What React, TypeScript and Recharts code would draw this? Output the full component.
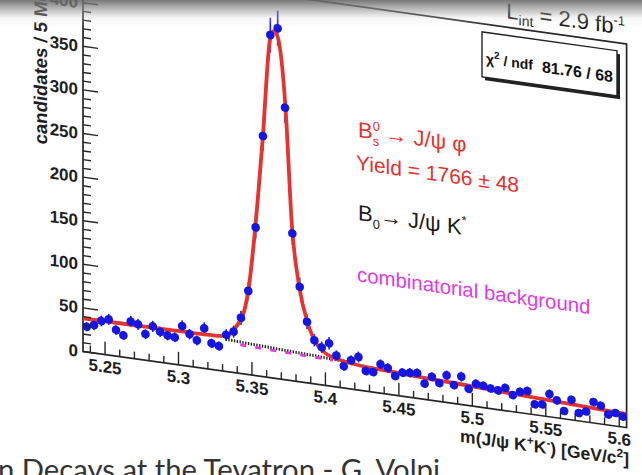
import React from 'react';
import { ComposedChart, Scatter, Line, XAxis, YAxis, ErrorBar, ReferenceArea } from 'recharts';

// bin centres of m(J/psi K+K-) [GeV/c^2], 5 MeV bins
const binMass = [
  5.2375, 5.2425, 5.2475, 5.2525, 5.2575, 5.2625, 5.2675, 5.2725, 5.2775, 5.2825,
  5.2875, 5.2925, 5.2975, 5.3025, 5.3075, 5.3125, 5.3175, 5.3225, 5.3275, 5.3325,
  5.3375, 5.3425, 5.3475, 5.3525, 5.3575, 5.3625, 5.3675, 5.3725, 5.3775, 5.3825,
  5.3875, 5.3925, 5.3975, 5.4025, 5.4075, 5.4125, 5.4175, 5.4225, 5.4275, 5.4325,
  5.4375, 5.4425, 5.4475, 5.4525, 5.4575, 5.4625, 5.4675, 5.4725, 5.4775, 5.4825,
  5.4875, 5.4925, 5.4975, 5.5025, 5.5075, 5.5125, 5.5175, 5.5225, 5.5275, 5.5325,
  5.5375, 5.5425, 5.5475, 5.5525, 5.5575, 5.5625, 5.5675, 5.5725, 5.5775, 5.5825,
  5.5875, 5.5925, 5.5975, 5.6025,
];
const candidates = [
  29, 32, 38, 41, 30, 25, 42, 40, 30, 40,
  35, 32, 31, 45, 37, 31, 46, 30, 28, 42,
  47, 64, 96, 170, 276, 393, 402, 312, 169, 109,
  70, 50, 43, 49, 36, 25, 33, 38, 23, 23,
  33, 30, 22, 27, 28, 29, 18, 27, 21, 31,
  21, 32, 19, 26, 25, 23, 22, 26, 19, 24,
  26, 12, 13, 26, 20, 9, 23, 9, 12, 24,
  21, 12, 15, 12,
];
const candidateErrors = [
  5.4, 5.7, 6.2, 6.4, 5.5, 5.0, 6.5, 6.3, 5.5, 6.3,
  5.9, 5.7, 5.6, 6.7, 6.1, 5.6, 6.8, 5.5, 5.3, 6.5,
  6.9, 8.0, 9.8, 13.0, 16.6, 19.8, 20.0, 17.7, 13.0, 10.4,
  8.4, 7.1, 6.6, 7.0, 6.0, 5.0, 5.7, 6.2, 4.8, 4.8,
  5.7, 5.5, 4.7, 5.2, 5.3, 5.4, 4.2, 5.2, 4.6, 5.6,
  4.6, 5.7, 4.4, 5.1, 5.0, 4.8, 4.7, 5.1, 4.4, 4.9,
  5.1, 3.5, 3.6, 5.1, 4.5, 3.0, 4.8, 3.0, 3.5, 4.9,
  4.6, 3.5, 3.9, 3.5,
];

// total fit curve
const fitMass = [
  5.235, 5.26, 5.29, 5.315, 5.325, 5.33, 5.335, 5.34, 5.345, 5.3476,
  5.3521, 5.3574, 5.3623, 5.3648, 5.3675, 5.373, 5.3771, 5.3823, 5.3877, 5.3941,
  5.40, 5.41, 5.42, 5.45, 5.50, 5.55, 5.605,
];
const fitValues = [
  38, 38.3, 38.6, 39, 39.5, 40.5, 44, 55, 74, 97,
  167, 275, 388, 398, 392, 308, 180, 108, 70, 46,
  37, 31.5, 29, 26, 22.5, 19, 15.5,
];
// total background (dotted) and combinatorial background (magenta dashed)
const totalBkgMass = [5.332, 5.35, 5.37, 5.39, 5.41, 5.42];
const totalBkgValues = [37, 35.5, 34, 32.5, 31, 30.5];
const combMass = [5.342, 5.36, 5.38, 5.40, 5.405];
const combValues = [33, 32, 31, 30.2, 30];

const xMajorTicks = [5.25, 5.3, 5.35, 5.4, 5.45, 5.5, 5.55, 5.6];
const xMajorLabels = ['5.25', '5.3', '5.35', '5.4', '5.45', '5.5', '5.55', '5.6'];
const xMinorTicks = [
  5.24, 5.26, 5.27, 5.28, 5.29, 5.31, 5.32, 5.33, 5.34, 5.36, 5.37, 5.38, 5.39,
  5.41, 5.42, 5.43, 5.44, 5.46, 5.47, 5.48, 5.49, 5.51, 5.52, 5.53, 5.54,
  5.56, 5.57, 5.58, 5.59,
];
const yMajorTicks = [0, 50, 100, 150, 200, 250, 300, 350, 400];
const yMajorLabels = ['0', '50', '100', '150', '200', '250', '300', '350', '400'];
const yMinorTicks = [
  10, 20, 30, 40, 60, 70, 80, 90, 110, 120, 130, 140, 160, 170, 180, 190,
  210, 220, 230, 240, 260, 270, 280, 290, 310, 320, 330, 340, 360, 370, 380, 390,
  410, 420, 430,
];

const points = binMass.map((m, i) => ({ m, v: candidates[i], e: candidateErrors[i] }));
const fitData = fitMass.map((m, i) => ({ m, v: fitValues[i] }));
const totalBkgData = totalBkgMass.map((m, i) => ({ m, v: totalBkgValues[i] }));
const combData = combMass.map((m, i) => ({ m, v: combValues[i] }));
const xTicks = [...xMajorTicks, ...xMinorTicks].sort((a, b) => a - b);
const yTicks = [...yMajorTicks, ...yMinorTicks].sort((a, b) => a - b);

const FONT = '"Liberation Sans", Arial, Helvetica, sans-serif';
const AXIS = '#262626';
const RED = '#e5332f';
const BLUE = '#1616e0';
const MAGENTA = '#e03ae0';

const XTick = (props: any) => {
  const { x, y, payload } = props;
  const idx = xMajorTicks.findIndex((t) => Math.abs(t - payload.value) < 1e-6);
  const major = idx >= 0;
  return (
    <g>
      <line x1={x} x2={x} y1={y} y2={y - (major ? 13 : 7)} stroke={AXIS} strokeWidth={1.4} />
      {major && (
        <text x={x} y={y + 18} textAnchor="middle" fontFamily={FONT} fontSize={17} fontWeight="bold" fill="#1e1e1e">
          {xMajorLabels[idx]}
        </text>
      )}
    </g>
  );
};

const YTick = (props: any) => {
  const { x, y, payload } = props;
  const idx = yMajorTicks.findIndex((t) => Math.abs(t - payload.value) < 1e-6);
  const major = idx >= 0;
  return (
    <g>
      <line x1={x} x2={x + (major ? 15 : 8)} y1={y} y2={y} stroke={AXIS} strokeWidth={1.4} />
      {major && (
        <text x={x - 5} y={y + 6} textAnchor="end" fontFamily={FONT} fontSize={17} fontWeight="bold" fill="#1e1e1e">
          {yMajorLabels[idx]}
        </text>
      )}
    </g>
  );
};

const Dot = (props: any) => <circle cx={props.cx} cy={props.cy} r={4.3} fill={BLUE} />;

export default function App() {
  return (
    <div style={{ position: 'absolute', left: 0, top: 0, width: 642, height: 475, overflow: 'hidden', background: '#ffffff' }}>
      <div
        style={{
          position: 'absolute',
          left: 0,
          top: -90,
          width: 642,
          height: 560,
          transform: 'skewY(7.97deg)',
          transformOrigin: '83px 0px',
        }}
      >
        <ComposedChart width={642} height={560} margin={{ top: 57.8, right: 15.4, bottom: 58.5, left: 23 }}>
          <XAxis
            type="number"
            dataKey="m"
            domain={[5.235, 5.605]}
            ticks={xTicks}
            interval={0}
            allowDataOverflow
            axisLine={false}
            tickLine={false}
            tickSize={0}
            tickMargin={0}
            height={60}
            tick={<XTick />}
          />
          <YAxis
            type="number"
            dataKey="v"
            domain={[0, 440]}
            ticks={yTicks}
            interval={0}
            allowDataOverflow
            axisLine={false}
            tickLine={false}
            tickSize={0}
            tickMargin={0}
            width={60}
            tick={<YTick />}
          />
          <ReferenceArea x1={5.235} x2={5.605} y1={0} y2={440} fill="none" stroke={AXIS} strokeWidth={1.7} ifOverflow="visible" />
          <Scatter data={points} dataKey="v" shape={<Dot />} isAnimationActive={false}>
            <ErrorBar dataKey="e" direction="y" width={0} stroke={BLUE} strokeWidth={1.6} />
          </Scatter>
          <Line data={totalBkgData} dataKey="v" type="linear" stroke="#222" strokeWidth={3} strokeDasharray="1.4 1.4" dot={false} isAnimationActive={false} />
          <Line data={combData} dataKey="v" type="linear" stroke={MAGENTA} strokeWidth={2.8} strokeDasharray="6 9" dot={false} isAnimationActive={false} />
          <Line data={fitData} dataKey="v" type="monotone" stroke={RED} strokeWidth={3.8} dot={false} isAnimationActive={false} />
        </ComposedChart>
        <svg width={642} height={560} style={{ position: 'absolute', left: 0, top: 0, pointerEvents: 'none' }}>
          <text x={47} y={240} transform="rotate(-90 47 240)" textAnchor="start" fontFamily={FONT} fontSize={18.5} fontWeight="bold" fill="#1e1e1e">
            candidates / 5 MeV/c<tspan dy={-7} fontSize={12}>2</tspan>
          </text>
          <text x={629} y={479} textAnchor="end" fontFamily={FONT} fontSize={17.5} fontWeight="bold" fill="#1e1e1e">
            m(J/ψ K<tspan dy={-7} fontSize={12}>+</tspan><tspan dy={7}>K</tspan><tspan dy={-7} fontSize={12}>-</tspan><tspan dy={7}>)  [GeV/c</tspan><tspan dy={-7} fontSize={12}>2</tspan><tspan dy={7}>]</tspan>
          </text>
          <text x={625} y={49} textAnchor="end" fontFamily={FONT} fontSize={22} fill="#111">
            L<tspan dy={5} fontSize={14}>int</tspan><tspan dy={-5}> = 2.9 fb</tspan><tspan dy={-9} fontSize={13}>-1</tspan>
          </text>
          <rect x={485} y={69} width={135} height={45} fill="#222" />
          <rect x={482} y={66} width={135} height={45} fill="#fff" stroke="#222" strokeWidth={1.4} />
          <text x={486} y={97} fontFamily={FONT} fontSize={14} fontWeight="bold" fill="#111">
            χ<tspan dy={-6} fontSize={10}>2</tspan><tspan dy={6}> / ndf</tspan>
          </text>
          <text x={613} y={98} textAnchor="end" fontFamily={FONT} fontSize={16} fontWeight="bold" fill="#111">
            81.76 / 68
          </text>
          <text x={358} y={188.6} fontFamily={FONT} fontSize={22} fill={RED}>
            B<tspan dy={-9} fontSize={13}>0</tspan><tspan dx={-7.2} dy={15} fontSize={13}>s</tspan><tspan dy={-6}> → J/ψ φ</tspan>
          </text>
          <text x={356} y={221.4} fontFamily={FONT} fontSize={21} fill={RED}>
            Yield = 1766 ± 48
          </text>
          <text x={358} y={271.6} fontFamily={FONT} fontSize={22} fill="#1a1a1a">
            B<tspan dy={6} fontSize={13}>0</tspan><tspan dy={-6}>→ J/ψ K</tspan><tspan dy={-10} fontSize={13}>*</tspan>
          </text>
          <text x={357} y={333} fontFamily={FONT} fontSize={20.4} fill={MAGENTA}>
            combinatorial background
          </text>
        </svg>
      </div>
      <div
        style={{
          position: 'absolute',
          left: 0,
          top: 0,
          width: 642,
          height: 28,
          pointerEvents: 'none',
          background:
            'linear-gradient(to bottom, rgba(105,105,105,0.9) 0px, rgba(140,140,140,0.65) 8px, rgba(220,220,220,0.25) 18px, rgba(255,255,255,0) 28px)',
        }}
      />
      <svg width={642} height={475} style={{ position: 'absolute', left: 0, top: 0, pointerEvents: 'none' }}>
        <text x={-2} y={480} fontFamily="Lato, 'Open Sans', sans-serif" fontSize={29} fill="#333" textLength={442} lengthAdjust="spacingAndGlyphs">
          n Decays at the Tevatron - G. Volpi
        </text>
      </svg>
    </div>
  );
}
